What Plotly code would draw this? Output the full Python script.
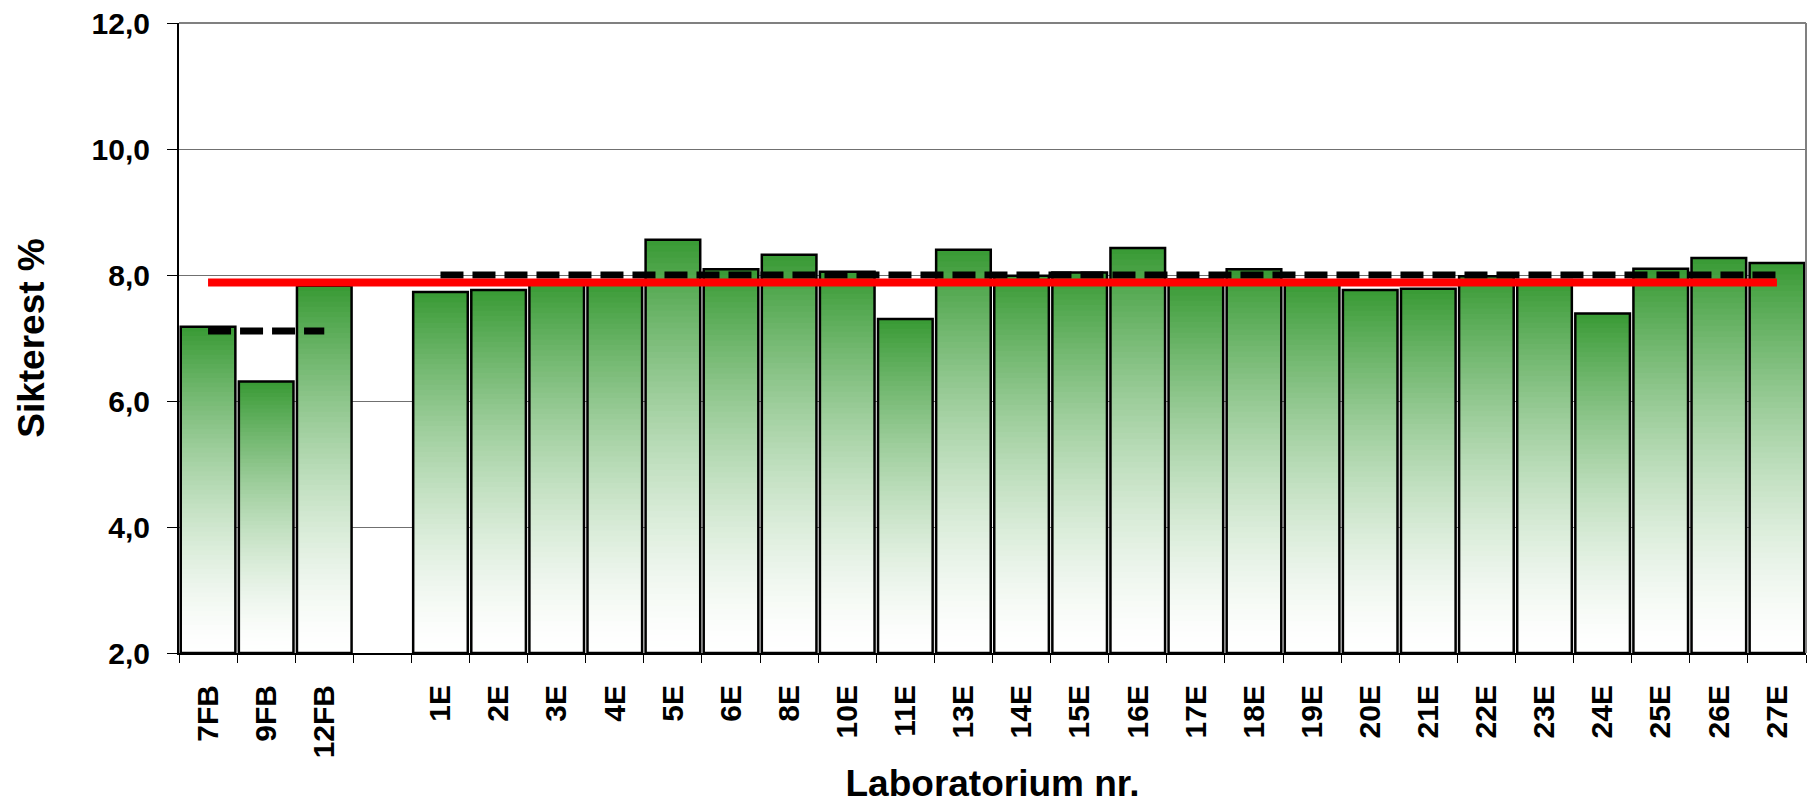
import plotly.graph_objects as go

# ---- data ----
categories = ["7FB", "9FB", "12FB", " ", "1E", "2E", "3E", "4E", "5E", "6E", "8E", "10E",
              "11E", "13E", "14E", "15E", "16E", "17E", "18E", "19E", "20E", "21E",
              "22E", "23E", "24E", "25E", "26E", "27E"]
labs = ["7FB", "9FB", "12FB", "1E", "2E", "3E", "4E", "5E", "6E", "8E", "10E",
        "11E", "13E", "14E", "15E", "16E", "17E", "18E", "19E", "20E", "21E",
        "22E", "23E", "24E", "25E", "26E", "27E"]
values = [7.18, 6.31, 7.83,
          7.73, 7.76, 7.90, 7.90, 8.56, 8.09, 8.32, 8.05, 7.30, 8.40, 7.99, 8.04,
          8.43, 7.93, 8.09, 7.90, 7.76, 7.78, 7.98, 7.92, 7.39, 8.10, 8.27, 8.19]
fb_span = ["7FB", "12FB"]
fb_mean = 7.11
e_span = ["1E", "27E"]
e_mean = 8.00
all_span = ["7FB", "27E"]
all_mean = 7.88
y_min, y_max = 2.0, 12.0
y_tickvals = [2, 4, 6, 8, 10, 12]
y_ticktext = ["2,0", "4,0", "6,0", "8,0", "10,0", "12,0"]

FONT = "Liberation Sans, Arial, sans-serif"
top_rgb = (56, 154, 52)
N = 70

fig = go.Figure()

# keep every category (including the blank gap) on the axis
fig.add_trace(go.Scatter(x=categories, y=[None] * len(categories), mode="markers",
                         hoverinfo="skip", showlegend=False))

# gradient fill: stacked overlay segments, white at base -> green at top
for k in range(N):
    t = (k + 0.5) / N
    w = t ** 1.5
    r, g, b = [round(255 + (c - 255) * w) for c in top_rgb]
    starts = [y_min + (v - y_min) * k / N for v in values]
    fig.add_trace(go.Bar(
        x=labs, y=[v - s for v, s in zip(values, starts)], base=starts,
        marker=dict(color=f"rgb({r},{g},{b})", line=dict(width=0)),
        hoverinfo="skip", showlegend=False))

# outline
fig.add_trace(go.Bar(
    x=labs, y=[v - y_min for v in values], base=[y_min] * len(values),
    marker=dict(color="rgba(0,0,0,0)", line=dict(color="black", width=2.5)),
    showlegend=False, name="Sikterest"))

# mean lines
fig.add_trace(go.Scatter(x=fb_span, y=[fb_mean] * 2, mode="lines",
                         line=dict(color="black", width=7, dash="23px,9px"), showlegend=False))
fig.add_trace(go.Scatter(x=e_span, y=[e_mean] * 2, mode="lines",
                         line=dict(color="black", width=7, dash="23px,9px"), showlegend=False))
fig.add_trace(go.Scatter(x=all_span, y=[all_mean] * 2, mode="lines",
                         line=dict(color="#ff0000", width=8), showlegend=False))

fig.update_layout(
    width=1807, height=796,
    margin=dict(l=171, r=9, t=15, b=151, autoexpand=False),
    paper_bgcolor="white", plot_bgcolor="white",
    barmode="overlay", bargap=0.06,
    font=dict(family=FONT, color="black"),
    xaxis=dict(
        type="category", categoryorder="array", categoryarray=categories,
        range=[-0.5, len(categories) - 0.5],
        showline=True, linecolor="black", linewidth=2,
        ticks="outside", tickson="boundaries", ticklen=8, tickcolor="black", tickwidth=1,
        tickangle=-90, tickfont=dict(size=30, weight="bold", family=FONT),
        ticklabelstandoff=18,
        showgrid=False, zeroline=False,
        title=dict(text="Laboratorium nr.", font=dict(size=37, weight="bold", family=FONT),
                   standoff=23),
    ),
    yaxis=dict(
        range=[y_min, y_max], tickvals=y_tickvals, ticktext=y_ticktext,
        showline=True, linecolor="black", linewidth=2,
        ticks="outside", ticklen=10, tickcolor="black", tickwidth=1,
        tickfont=dict(size=30, weight="bold", family=FONT), ticklabelstandoff=11,
        ticklabeloverflow="allow",
        showgrid=True, gridcolor="#707070", gridwidth=1, zeroline=False,
        title=dict(text="Sikterest %", font=dict(size=37, weight="bold", family=FONT),
                   standoff=36),
    ),
    shapes=[
        dict(type="line", xref="paper", yref="paper", x0=1, x1=1, y0=0, y1=1,
             line=dict(color="#808080", width=2)),
        dict(type="line", xref="paper", yref="paper", x0=0, x1=1, y0=1, y1=1,
             line=dict(color="#808080", width=2)),
    ],
)

fig.write_html("out.html")
